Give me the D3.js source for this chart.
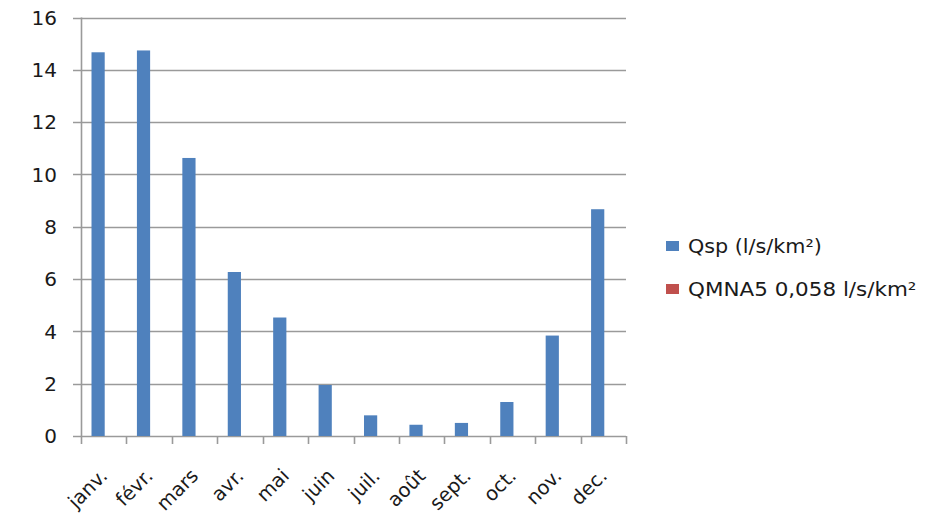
<!DOCTYPE html>
<html>
<head>
<meta charset="utf-8">
<script src="https://cdn.jsdelivr.net/npm/d3@7"></script>
<style>
  html, body { margin: 0; padding: 0; background: #fff; }
  svg { display: block; }
  text { font-family: "DejaVu Sans", sans-serif; fill: #1a1a1a; }
</style>
</head>
<body>
<svg id="chart" width="935" height="515"></svg>
<script>
const months = ["janv.", "févr.", "mars", "avr.", "mai", "juin", "juil.", "août", "sept.", "oct.", "nov.", "dec."];
const qspValues = [14.67, 14.74, 10.63, 6.27, 4.53, 1.95, 0.79, 0.43, 0.50, 1.30, 3.84, 8.67];
const seriesNames = ["Qsp (l/s/km²)", "QMNA5 0,058 l/s/km²"];
const seriesColors = ["#4F81BD", "#C0504D"];
const yTicks = [0, 2, 4, 6, 8, 10, 12, 14, 16];

const svg = d3.select("#chart");
const plotLeft = 81, plotRight = 626, plotTop = 17.5, plotBottom = 436;

const x = d3.scaleBand().domain(months).range([plotLeft, plotRight]).padding(0);
const xInner = d3.scaleBand().domain(seriesNames).range([0, x.bandwidth()]).paddingInner(0).paddingOuter(0.72);
const y = d3.scaleLinear().domain([0, 16]).range([plotBottom, plotTop]);

// gridlines
svg.append("g").selectAll("line").data(yTicks).join("line")
  .attr("x1", plotLeft - 8).attr("x2", plotRight)
  .attr("y1", d => Math.round(y(d)) + 0.5).attr("y2", d => Math.round(y(d)) + 0.5)
  .attr("stroke", "#9a9a9a").attr("stroke-width", 1.6);

// y axis line
svg.append("line").attr("x1", plotLeft + 0.5).attr("x2", plotLeft + 0.5)
  .attr("y1", plotTop).attr("y2", plotBottom + 8)
  .attr("stroke", "#9a9a9a").attr("stroke-width", 1.6);

// category ticks
const boundaries = months.map(m => x(m)).concat([plotRight]);
svg.append("g").selectAll("line").data(boundaries.slice(1)).join("line")
  .attr("x1", d => Math.round(d) + 0.5).attr("x2", d => Math.round(d) + 0.5)
  .attr("y1", plotBottom).attr("y2", plotBottom + 8)
  .attr("stroke", "#9a9a9a").attr("stroke-width", 1.6);

// y tick labels
svg.append("g").selectAll("text").data(yTicks).join("text")
  .attr("x", 57).attr("y", d => y(d))
  .attr("dy", "0.36em")
  .attr("text-anchor", "end")
  .style("font-size", "20px")
  .text(d => d);

// bars
svg.append("g").selectAll("rect").data(qspValues).join("rect")
  .attr("x", (d, i) => x(months[i]) + xInner(seriesNames[0]) + 1)
  .attr("width", xInner.bandwidth())
  .attr("y", d => y(d))
  .attr("height", d => y(0) - y(d))
  .attr("fill", seriesColors[0]);

// month labels
svg.append("g").selectAll("text").data(months).join("text")
  .attr("transform", d => `translate(${x(d) + x.bandwidth() / 2 + 5},${477}) rotate(-45)`)
  .attr("text-anchor", "end")
  .style("font-size", "19.5px")
  .text(d => d);

// legend
const legend = svg.append("g");
const legendY = [241, 284];
const legendScale = [1.09, 1.13];
seriesNames.forEach((name, i) => {
  legend.append("rect").attr("x", 666).attr("y", legendY[i]).attr("width", 13).attr("height", 10)
    .attr("fill", seriesColors[i]);
  legend.append("text")
    .attr("transform", `translate(688,${legendY[i] + 12}) scale(${legendScale[i]},1)`)
    .style("font-size", "19px")
    .text(name);
});
</script>
</body>
</html>
